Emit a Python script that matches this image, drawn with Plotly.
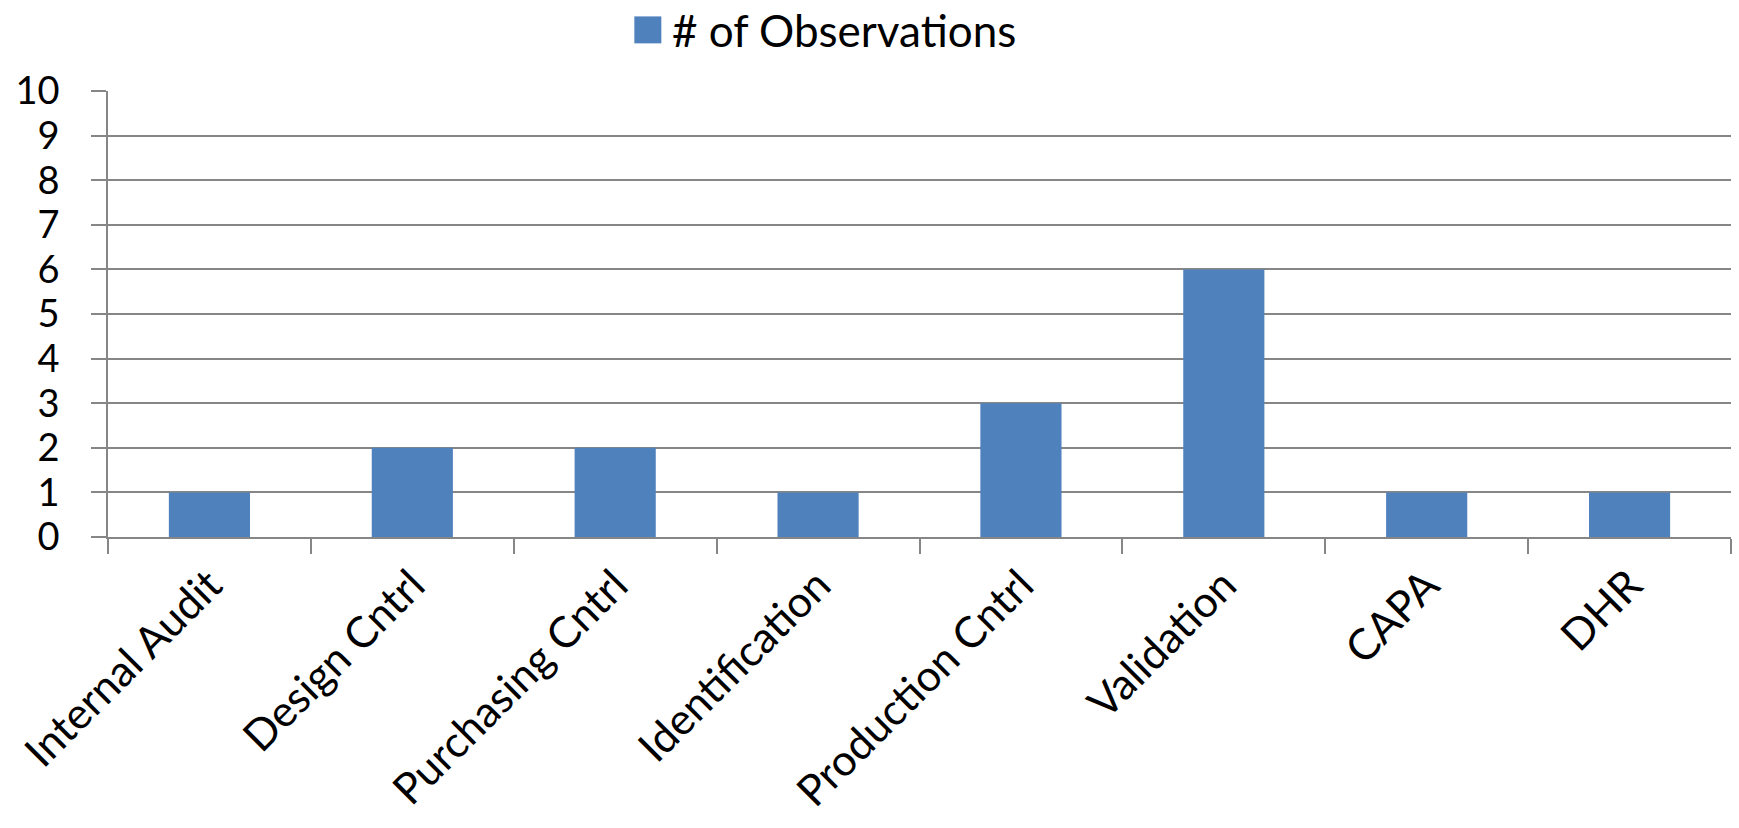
import plotly.graph_objects as go

categories = ["Internal Audit", "Design Cntrl", "Purchasing Cntrl", "Identification",
              "Production Cntrl", "Validation", "CAPA", "DHR"]
observations = [1, 2, 2, 1, 3, 6, 1, 1]
series_name = "# of Observations"
y_ticks = list(range(0, 11))

W, H = 1739, 828
L, R, T, B = 107.5, 8, 90.7, 290.7
plot_w = W - L - R
plot_h = H - T - B

BAR_COLOR = "#4F81BD"
GRID_COLOR = "#868686"
FONT = "Lato"


def px_x(x):
    return (x - L) / plot_w


def px_y(y):
    return (H - B - y) / plot_h


fig = go.Figure()
fig.add_trace(go.Bar(
    x=categories,
    y=observations,
    name=series_name,
    marker=dict(color=BAR_COLOR, line=dict(width=0)),
    showlegend=False,
))

# legend: square swatch + series label
fig.add_shape(type="rect", xref="paper", yref="paper",
              x0=px_x(634), x1=px_x(661), y0=px_y(43), y1=px_y(16),
              fillcolor=BAR_COLOR, line=dict(width=0))
fig.add_annotation(text=series_name, xref="paper", yref="paper",
                   x=px_x(670), y=px_y(29.5), xanchor="left", yanchor="middle",
                   showarrow=False, font=dict(family=FONT, size=44, color="black"))

fig.update_layout(
    width=W, height=H,
    margin=dict(l=L, r=R, t=T, b=B, pad=0, autoexpand=False),
    paper_bgcolor="white", plot_bgcolor="white",
    font=dict(family=FONT, size=41, color="black"),
    bargap=0.6,
)
fig.update_xaxes(
    type="category", tickangle=-45, tickson="boundaries", automargin=False,
    ticks="outside", ticklen=15, tickwidth=1.5, tickcolor=GRID_COLOR,
    showline=True, linecolor=GRID_COLOR, linewidth=1.5,
    showgrid=False, ticklabelstandoff=4,
    tickfont=dict(family=FONT, size=43, color="black"),
)
fig.update_yaxes(
    range=[0, 10], tickmode="array", tickvals=y_ticks, automargin=False,
    ticks="outside", ticklen=15, tickwidth=1.5, tickcolor=GRID_COLOR,
    showline=True, linecolor=GRID_COLOR, linewidth=1.5,
    showgrid=True, gridcolor=GRID_COLOR, gridwidth=1.5,
    zeroline=False, ticklabelstandoff=24,
    tickfont=dict(family=FONT, size=38, color="black"),
)

fig.write_html("out.html")
